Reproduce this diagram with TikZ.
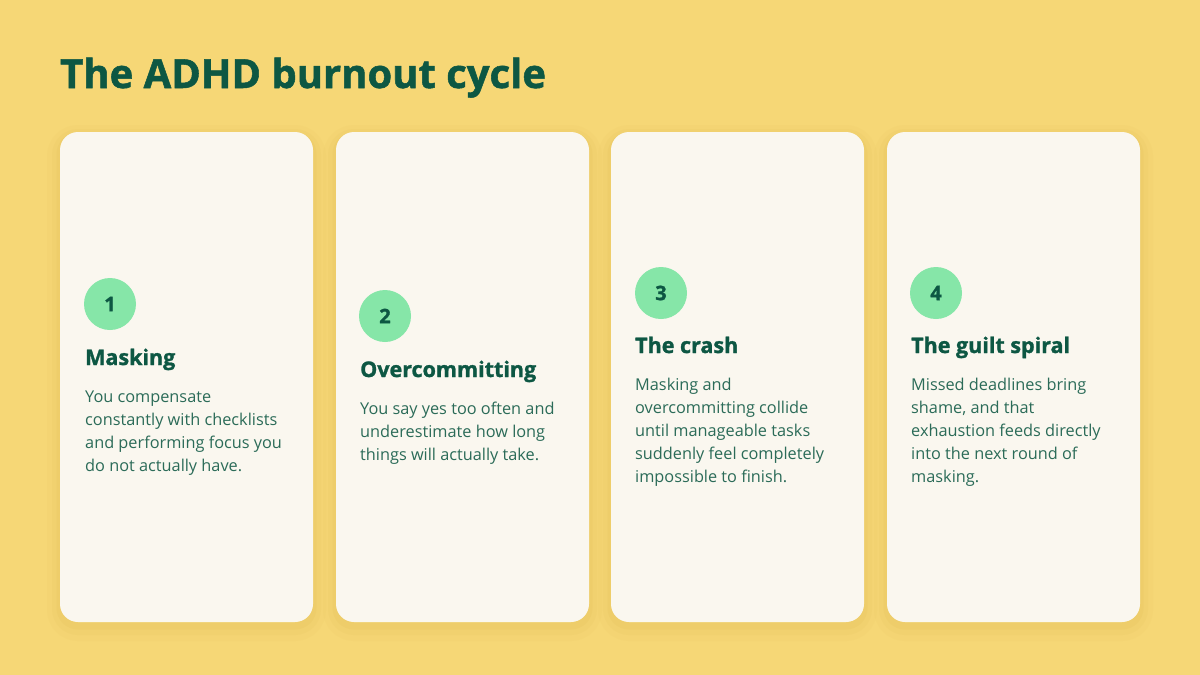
\documentclass[tikz,border=0pt]{standalone}
\usepackage{fontspec}
\setmainfont{Open Sans}
\newfontfamily\heavy{Open Sans}[BoldFeatures={FakeBold=1.3}]
\usetikzlibrary{positioning}
\definecolor{bg}{HTML}{F6D776}
\definecolor{paper}{HTML}{FAF7EF}
\definecolor{mint}{HTML}{86E6A8}
\definecolor{ink}{HTML}{0D5743}
\definecolor{body}{HTML}{2B6B58}
\definecolor{shade}{HTML}{D4AE45}
\tikzset{
  card/.style={rectangle,rounded corners=18pt,fill=paper,minimum width=253pt,minimum height=490pt,inner sep=0pt,
    preaction={draw=shade,line width=26pt,draw opacity=.05,transform canvas={yshift=-6pt}},
    preaction={draw=shade,line width=16pt,draw opacity=.07,transform canvas={yshift=-5pt}},
    preaction={draw=shade,line width=7pt,draw opacity=.10,transform canvas={yshift=-4pt}}},
  num/.style={circle,fill=mint,minimum size=52pt,inner sep=0pt,font=\heavy\fontsize{20}{24}\selectfont\bfseries,text=ink},
  head/.style={anchor=base west,inner sep=0pt,font=\heavy\fontsize{21.5}{25}\selectfont\bfseries,text=ink},
  txt/.style={anchor=base west,inner sep=0pt,align=left,font=\fontsize{16.3}{23}\selectfont,text=body},
  ttl/.style={anchor=base west,inner sep=0pt,font=\heavy\fontsize{40}{46}\selectfont\bfseries,text=ink},
}
\begin{document}
\begin{tikzpicture}[x=1pt,y=-1pt]
\fill[bg] (0,0) rectangle (1200,675);
\useasboundingbox (0,0) rectangle (1200,675);
\node[ttl] (title) at (60,88) {The ADHD burnout cycle};
% cards
\node[card] (c1) at (186.5,377) {};
\node[card] (c2) at (462.5,377) {};
\node[card] (c3) at (737.5,377) {};
\node[card] (c4) at (1013.5,377) {};
% 1 (text nodes sit on their last baseline)
\node[num] (n1) at (110,304) {1};
\node[head] (h1) at (85,365) {Masking};
\node[txt] (t1) at (85,471) {You compensate\\constantly with checklists\\and performing focus you\\do not actually have.};
% 2
\node[num] (n2) at (385,316) {2};
\node[head] (h2) at (360,377) {Overcommitting};
\node[txt] (t2) at (360,460) {You say yes too often and\\underestimate how long\\things will actually take.};
% 3
\node[num] (n3) at (661,293) {3};
\node[head] (h3) at (635,353) {The crash};
\node[txt] (t3) at (635,482) {Masking and\\overcommitting collide\\until manageable tasks\\suddenly feel completely\\impossible to finish.};
% 4
\node[num] (n4) at (936,293) {4};
\node[head] (h4) at (911,353) {The guilt spiral};
\node[txt] (t4) at (911,482) {Missed deadlines bring\\shame, and that\\exhaustion feeds directly\\into the next round of\\masking.};
\end{tikzpicture}
\end{document}
